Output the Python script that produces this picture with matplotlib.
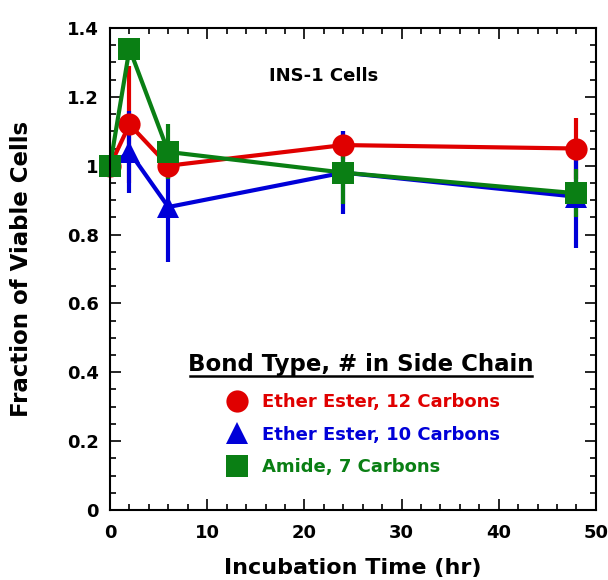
import matplotlib
matplotlib.use("Agg")
import matplotlib.pyplot as plt
from matplotlib.lines import Line2D
from matplotlib.ticker import MultipleLocator

plt.rcParams['font.family'] = ['DejaVu Sans']
plt.rcParams['font.weight'] = 'bold'

time = [0, 2, 6, 24, 48]
red_vals = [1.00, 1.12, 1.00, 1.06, 1.05]
red_err = [0.00, 0.17, 0.04, 0.04, 0.09]
blue_vals = [1.00, 1.04, 0.88, 0.98, 0.91]
blue_err = [0.00, 0.12, 0.16, 0.12, 0.15]
green_vals = [1.00, 1.34, 1.04, 0.98, 0.92]
green_err = [0.00, 0.02, 0.08, 0.09, 0.07]

labels = ["Ether Ester, 12 Carbons", "Ether Ester, 10 Carbons", "Amide, 7 Carbons"]
colors = ["#e00000", "#0000d8", "#0a7f14"]
markers = ["o", "^", "s"]

fig = plt.figure(figsize=(6.08, 5.8), dpi=100)
ax = fig.add_axes([0.181, 0.1207, 0.799, 0.831])

series = [(red_vals, red_err), (blue_vals, blue_err), (green_vals, green_err)]
msizes = [16, 16, 16]
for (v, e), c, m, ms in zip(series, colors, markers, msizes):
    ax.errorbar(time, v, yerr=e, color=c, marker=m, markersize=ms, lw=3,
                elinewidth=3, capsize=5, capthick=3, markeredgewidth=0)
for ln in ax.lines:
    ln.set_clip_on(False)

ax.set_xlim(0, 50)
ax.set_ylim(0, 1.4)
ax.xaxis.set_major_locator(MultipleLocator(10))
ax.xaxis.set_minor_locator(MultipleLocator(2))
ax.yaxis.set_minor_locator(MultipleLocator(0.05))
ax.set_yticks([0, 0.2, 0.4, 0.6, 0.8, 1.0, 1.2, 1.4])
ax.set_yticklabels(["0", "0.2", "0.4", "0.6", "0.8", "1", "1.2", "1.4"])
ax.tick_params(which='both', direction='in', top=True, right=True, width=1.2)
ax.tick_params(which='major', length=8, labelsize=13)
ax.tick_params(axis='x', which='major', pad=10)
ax.tick_params(axis='y', which='major', pad=8)
ax.tick_params(which='minor', length=4)
for lab in ax.get_xticklabels() + ax.get_yticklabels():
    lab.set_fontweight('bold')
for s in ax.spines.values():
    s.set_linewidth(1.5)

ax.set_xlabel("Incubation Time (hr)", fontsize=16, fontweight='bold')
ax.xaxis.set_label_coords(0.5, -0.10)
ax.set_ylabel("Fraction of Viable Cells", fontsize=16.5, fontweight='bold')
ax.yaxis.set_label_coords(-0.158, 0.5)

ax.text(0.44, 0.9, "INS-1 Cells", transform=ax.transAxes, ha='center', va='center',
        fontsize=13, fontweight='bold')

# legend title with underline
ax.text(0.517, 0.289, "Bond Type, # in Side Chain", transform=ax.transAxes,
        ha='center', va='baseline', fontsize=16.5, fontweight='bold')
ax.plot([0.165, 0.868], [0.279, 0.279], transform=ax.transAxes, color='black', lw=1.8,
        clip_on=False)

handles = [Line2D([], [], color=c, marker=m, linestyle='none', markersize=16,
                  markeredgewidth=0) for c, m in zip(colors, markers)]
leg = ax.legend(handles, labels, loc='upper left', bbox_to_anchor=(0.239, 0.243),
                frameon=False, fontsize=13, handletextpad=0.8, labelspacing=0.82,
                borderaxespad=0, borderpad=0, handlelength=1.2)
for t, c in zip(leg.get_texts(), colors):
    t.set_color(c)
    t.set_fontweight('bold')

fig.savefig("out.png", dpi=100)
